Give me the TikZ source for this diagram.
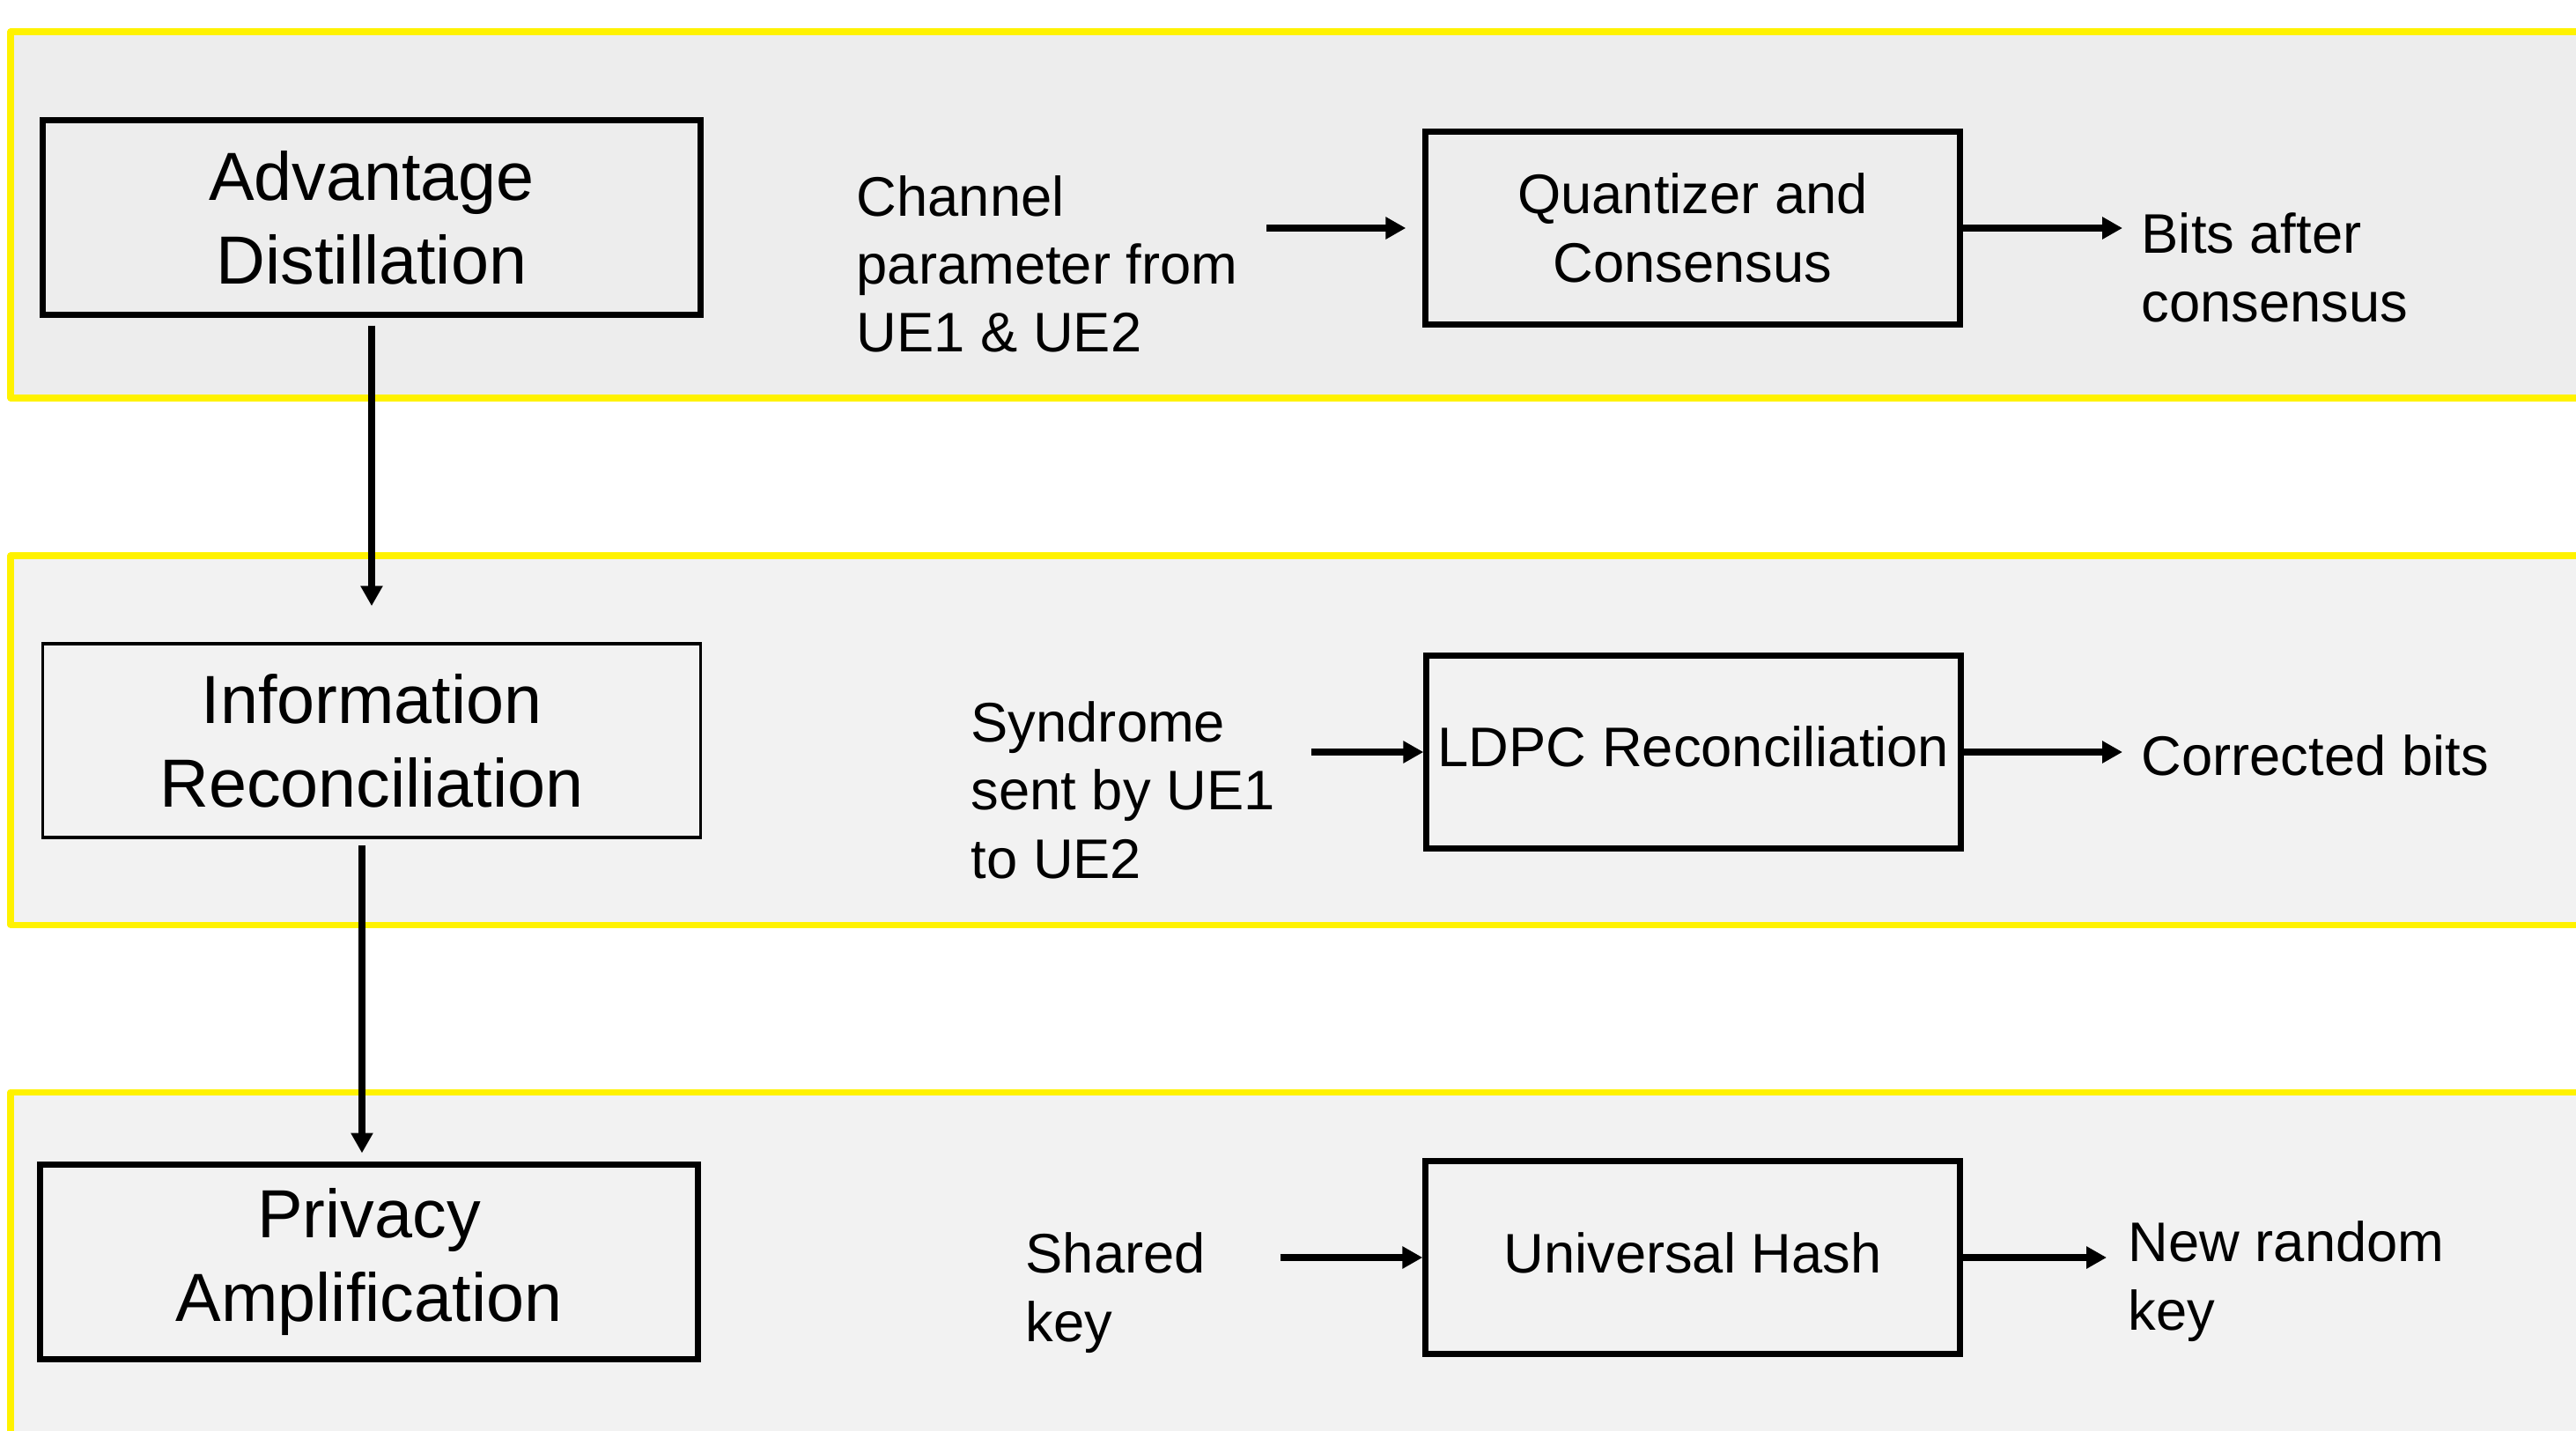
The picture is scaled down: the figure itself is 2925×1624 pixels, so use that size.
\documentclass[tikz,border=0pt]{standalone}
\usepackage{fontspec}
\setmainfont{Liberation Sans}
\usetikzlibrary{arrows.meta}

\begin{document}
\begin{tikzpicture}
    [x=0.01cm,y=-0.01cm,
      band/.style={draw=yellow,line width=2pt,line join=round},
      stage/.style={rectangle,draw=black,line width=2pt,minimum width=7.47cm,
        minimum height=2.2cm,inner sep=2pt,align=center,
        font=\fontsize{22pt}{27pt}\selectfont},
      proc/.style={rectangle,draw=black,line width=2pt,minimum width=6.06cm,
        minimum height=2.18cm,inner sep=2pt,align=center,
        font=\fontsize{18pt}{22pt}\selectfont},
      note/.style={anchor=west,inner sep=0pt,align=left,
        font=\fontsize{18pt}{22pt}\selectfont},
      flow/.style={line width=2.2pt,-{Triangle[length=6.5pt,width=6.8pt]}}
    ]
    \useasboundingbox (0,0) rectangle (2925,1624);
    \clip (0,0) rectangle (2925,1624);

    % the three phases
    \draw [band,fill=black!7] (12,36) rectangle (2980,452);
    \draw [band,fill=black!5] (12,631) rectangle (2980,1050);
    \draw [band,fill=black!5] (12,1240) rectangle (2980,1700);

    \node [stage] (advDist) at (422,247) {Advantage\\Distillation};
    \node [stage,line width=1pt] (infoRec) at (422,841) {Information\\Reconciliation};
    \node [stage] (privAmp) at (419,1433) {Privacy\\Amplification};

    \node [proc] (quantCons) at (1922,259) {Quantizer and\\Consensus};
    \node [proc] (ldpcRec) at (1923,854) {\raisebox{0.12cm}{LDPC Reconciliation}};
    \node [proc] (uniHash) at (1922,1428) {\raisebox{0.11cm}{Universal Hash}};

    \node [note] (chanIn) at (972,300) {Channel\\parameter from\\UE1 \& UE2};
    \node [note] (bitsOut) at (2431,304) {Bits after\\consensus};
    \node [note] (syndIn) at (1102,897) {Syndrome\\sent by UE1\\to UE2};
    \node [note] (corrOut) at (2431,858) {Corrected bits};
    \node [note] (keyIn) at (1164,1468) {Shared\\key};
    \node [note] (keyOut) at (2416,1455) {New random\\key};

    % phase to phase
    \draw [flow,shorten <=0.09cm,shorten >=0.41cm] (advDist) -- (infoRec);
    \draw [flow,shorten <=0.07cm,shorten >=0.1cm]
    ([xshift=-0.11cm]infoRec.south) -- ([xshift=-0.11cm]infoRec.south |- privAmp.north);

    % inputs and outputs
    \draw [flow,shorten <=0.32cm,shorten >=0.19cm] (chanIn.east |- quantCons) -- (quantCons.west);
    \draw [flow,shorten >=0.21cm] (quantCons.east) -- (bitsOut.west |- quantCons);
    \draw [flow,shorten <=0.41cm] (syndIn.east |- ldpcRec) -- (ldpcRec.west);
    \draw [flow,shorten >=0.21cm] (ldpcRec.east) -- (corrOut.west |- ldpcRec);
    \draw [flow,shorten <=0.84cm] (keyIn.east |- uniHash) -- (uniHash.west);
    \draw [flow,shorten >=0.24cm] (uniHash.east) -- (keyOut.west |- uniHash);
  \end{tikzpicture}
\end{document}
